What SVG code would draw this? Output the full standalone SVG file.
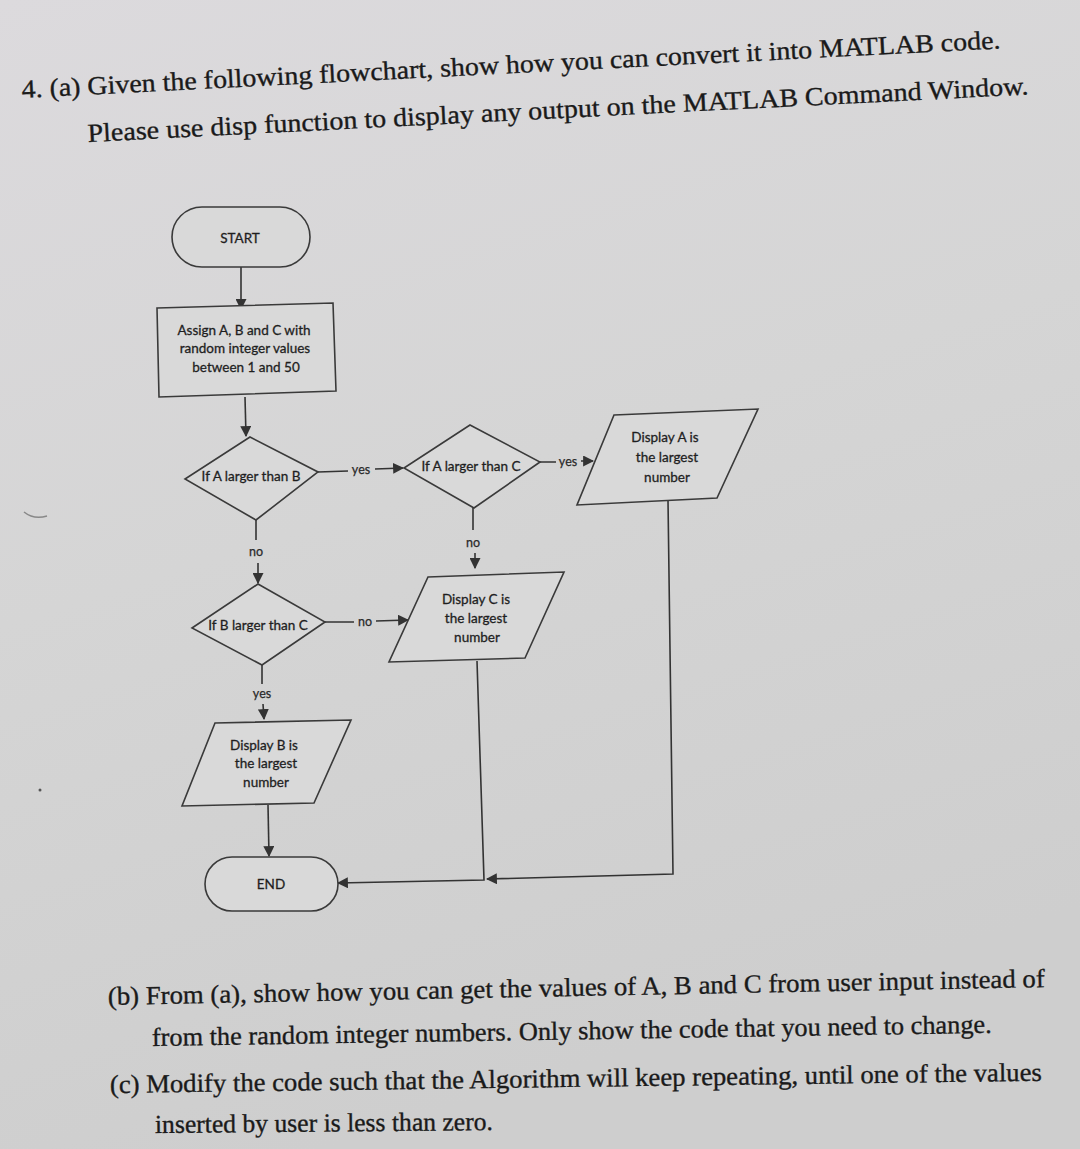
<svg xmlns="http://www.w3.org/2000/svg" width="1080" height="1149" viewBox="0 0 1080 1149">
<defs>
<linearGradient id="bg" x1="0" y1="0" x2="0.3" y2="1">
<stop offset="0" stop-color="#dcdadd"/>
<stop offset="0.5" stop-color="#d5d5d5"/>
<stop offset="1" stop-color="#cecece"/>
</linearGradient>
<marker id="ah" viewBox="0 0 10 10" refX="9" refY="5" markerWidth="11" markerHeight="11" markerUnits="userSpaceOnUse" orient="auto">
<path d="M0,0 L10,5 L0,10 z" fill="#333"/>
</marker>
</defs>
<style>
.q{font-family:"Liberation Serif","Times New Roman",serif;font-size:26px;fill:#1a1a1a;stroke:#1a1a1a;stroke-width:0.35}
.n{fill:#d9d9d9;stroke:#3a3a3a;stroke-width:1.6}
.t{font-family:Lato,"Liberation Sans",sans-serif;font-size:13.5px;fill:#1f1f1f;stroke:#1f1f1f;stroke-width:0.3;text-anchor:middle}
.c{fill:none;stroke:#333;stroke-width:1.6}
.l{font-family:Lato,"Liberation Sans",sans-serif;font-size:12.5px;fill:#2a2a2a;stroke:#2a2a2a;stroke-width:0.25;text-anchor:middle}
</style>
<rect width="1080" height="1149" fill="url(#bg)"/>

<g id="question">
<text class="q" x="22" y="98" textLength="980" lengthAdjust="spacingAndGlyphs" transform="rotate(-2.9 22 98)">4. (a) Given the following flowchart, show how you can convert it into MATLAB code.</text>
<text class="q" x="88" y="142" textLength="942" lengthAdjust="spacingAndGlyphs" transform="rotate(-2.9 88 142)">Please use disp function to display any output on the MATLAB Command Window.</text>
<text class="q" x="108" y="1005" textLength="937" lengthAdjust="spacingAndGlyphs" transform="rotate(-1.1 108 1005)">(b) From (a), show how you can get the values of A, B and C from user input instead of</text>
<text class="q" x="152" y="1046" textLength="840" lengthAdjust="spacingAndGlyphs" transform="rotate(-0.9 152 1046)">from the random integer numbers. Only show the code that you need to change.</text>
<text class="q" x="110" y="1093" textLength="932" lengthAdjust="spacingAndGlyphs" transform="rotate(-0.75 110 1093)">(c) Modify the code such that the Algorithm will keep repeating, until one of the values</text>
<text class="q" x="155" y="1133" textLength="338" lengthAdjust="spacingAndGlyphs" transform="rotate(-0.5 155 1133)">inserted by user is less than zero.</text>
</g>

<g id="connectors">
<path class="c" d="M241,267 L241,309" marker-end="url(#ah)"/>
<path class="c" d="M245,397 L246,436" marker-end="url(#ah)"/>
<path class="c" d="M318,472 L348,471 M375,469 L403,468" marker-end="url(#ah)"/>
<path class="c" d="M540,462 L556,462 M581,461 L593,461" marker-end="url(#ah)"/>
<path class="c" d="M256,520 L256,540 M258,563 L258,583" marker-end="url(#ah)"/>
<path class="c" d="M473,508 L473,530 M475,553 L475,568" marker-end="url(#ah)"/>
<path class="c" d="M325,622 L354,622 M376,621 L408,620" marker-end="url(#ah)"/>
<path class="c" d="M262,665 L262,684 M263,704 L264,719" marker-end="url(#ah)"/>
<path class="c" d="M268,805 L269,856" marker-end="url(#ah)"/>
<path class="c" d="M668,500 L673,874 L487,879" marker-end="url(#ah)"/>
<path class="c" d="M477,661 L484,880 L338,883" marker-end="url(#ah)"/>
<text class="l" x="361" y="474">yes</text>
<text class="l" x="568" y="466">yes</text>
<text class="l" x="256" y="556">no</text>
<text class="l" x="473" y="547">no</text>
<text class="l" x="365" y="626">no</text>
<text class="l" x="262" y="698">yes</text>
</g>

<g id="start">
<rect class="n" x="172" y="207" width="138" height="60" rx="30"/>
<text class="t" x="240" y="243">START</text>
</g>

<g id="assign">
<path class="n" d="M157,308 L333,303 L336,391 L159,397 Z"/>
<text class="t" x="244" y="335">Assign A, B and C with</text>
<text class="t" x="245" y="353">random integer values</text>
<text class="t" x="246" y="372">between 1 and 50</text>
</g>

<g id="dec-ab">
<path class="n" d="M250,437 L318,472 L256,520 L185,479 Z"/>
<text class="t" x="251" y="481">If A larger than B</text>
</g>

<g id="dec-ac">
<path class="n" d="M470,425 L540,462 L474,508 L404,468 Z"/>
<text class="t" x="471" y="471">If A larger than C</text>
</g>

<g id="disp-a">
<path class="n" d="M614,415 L758,409 L717,498 L577,505 Z"/>
<text class="t" x="665" y="442">Display A is</text>
<text class="t" x="667" y="462">the largest</text>
<text class="t" x="667" y="482">number</text>
</g>

<g id="dec-bc">
<path class="n" d="M258,584 L325,622 L262,665 L192,628 Z"/>
<text class="t" x="258" y="630">If B larger than C</text>
</g>

<g id="disp-c">
<path class="n" d="M428,577 L564,572 L525,658 L389,662 Z"/>
<text class="t" x="476" y="604">Display C is</text>
<text class="t" x="476" y="623">the largest</text>
<text class="t" x="477" y="642">number</text>
</g>

<g id="disp-b">
<path class="n" d="M215,723 L351,720 L314,803 L182,806 Z"/>
<text class="t" x="264" y="750">Display B is</text>
<text class="t" x="266" y="768">the largest</text>
<text class="t" x="266" y="787">number</text>
</g>

<g id="end">
<rect class="n" x="205" y="857" width="133" height="54" rx="27"/>
<text class="t" x="271" y="889">END</text>
</g>

<path d="M24,512 Q34,520 47,516" fill="none" stroke="#888" stroke-width="1.5"/>
<circle cx="40" cy="790" r="1.5" fill="#555"/>
</svg>
